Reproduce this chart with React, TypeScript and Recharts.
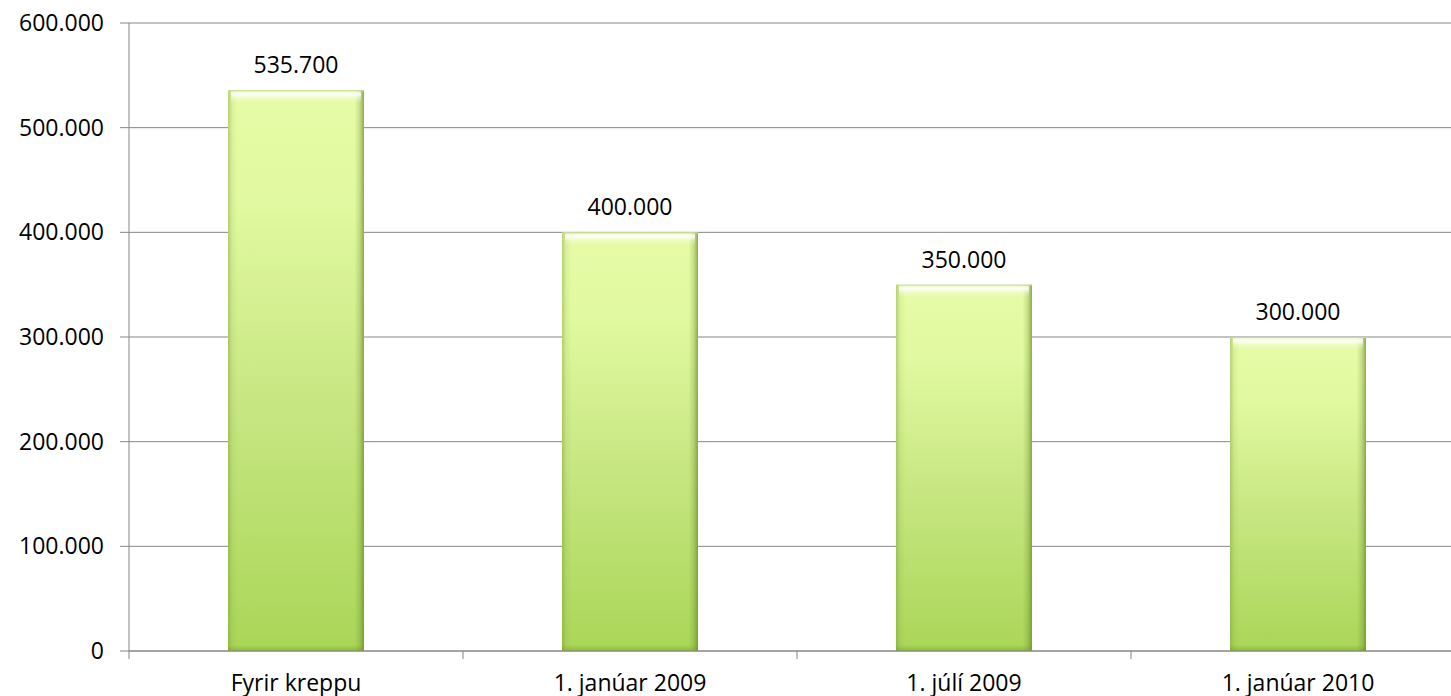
import React from "react";
import { BarChart, Bar, XAxis, YAxis, CartesianGrid, LabelList } from "recharts";

const categories = ["Fyrir kreppu", "1. janúar 2009", "1. júlí 2009", "1. janúar 2010"];
const values = [535700, 400000, 350000, 300000];
const yTicks = [0, 100000, 200000, 300000, 400000, 500000, 600000];

const data = categories.map((name, i) => ({ name, value: values[i] }));

const FONT = "'Open Sans', 'Noto Sans', sans-serif";
const fmt = (v: number) => (v === 0 ? "0" : v.toLocaleString("de-DE"));

const BarShape = (props: any) => {
  const { x, y, width, height } = props;
  if (!height || height <= 0) return null;
  return (
    <g>
      <rect x={x} y={y} width={width} height={height} fill="url(#gV)" />
      <rect x={x} y={y} width={width} height={height} fill="url(#gH)" />
      <rect x={x + 3} y={y + 1} width={width - 6} height={Math.min(12, height)} fill="url(#gTop)" />
      <rect x={x} y={y + height - 6} width={width} height={6} fill="url(#gBot)" />
      <line x1={x} x2={x + width} y1={y + 0.5} y2={y + 0.5} stroke="#c8d89a" strokeWidth={1} />
    </g>
  );
};

const XTick = (props: any) => {
  const { x, y, payload, index } = props;
  const off = payload.offset ?? 0;
  return (
    <g>
      <line x1={x + off} x2={x + off} y1={y - 8} y2={y} stroke="#868686" strokeWidth={1} />
      {index === 0 && (
        <line x1={x - off} x2={x - off} y1={y - 8} y2={y} stroke="#868686" strokeWidth={1} />
      )}
      <text x={x} y={y + 32} textAnchor="middle" fontFamily={FONT} fontSize={23} fill="#000">
        {payload.value}
      </text>
    </g>
  );
};

const ValueLabel = (props: any) => {
  const { x, y, width, value } = props;
  return (
    <text x={x + width / 2} y={y - 17} textAnchor="middle" fontFamily={FONT} fontSize={23} fill="#000">
      {fmt(value)}
    </text>
  );
};

export default function App() {
  return (
    <div style={{ position: "absolute", left: 0, top: 0, width: 1451, height: 696, overflow: "hidden", background: "#fff" }}>
      <BarChart
        width={1480}
        height={696}
        data={data}
        margin={{ top: 23, right: 15, bottom: 0, left: 0 }}
        barSize={136}
      >
        <defs>
          <linearGradient id="gV" x1="0" y1="0" x2="0" y2="1">
            <stop offset="0%" stopColor="#e6fba6" />
            <stop offset="20%" stopColor="#e1f9a0" />
            <stop offset="55%" stopColor="#c8e783" />
            <stop offset="100%" stopColor="#a9d657" />
          </linearGradient>
          <linearGradient id="gH" x1="0" y1="0" x2="1" y2="0">
            <stop offset="0%" stopColor="#6f9228" stopOpacity={0.4} />
            <stop offset="3%" stopColor="#6f9228" stopOpacity={0.1} />
            <stop offset="7%" stopColor="#6f9228" stopOpacity={0} />
            <stop offset="93%" stopColor="#6f9228" stopOpacity={0} />
            <stop offset="97%" stopColor="#5f8220" stopOpacity={0.25} />
            <stop offset="100%" stopColor="#5f8220" stopOpacity={0.65} />
          </linearGradient>
          <linearGradient id="gTop" x1="0" y1="0" x2="0" y2="1">
            <stop offset="0%" stopColor="#ffffff" stopOpacity={0.5} />
            <stop offset="25%" stopColor="#ffffff" stopOpacity={0.9} />
            <stop offset="60%" stopColor="#ffffff" stopOpacity={0.3} />
            <stop offset="100%" stopColor="#ffffff" stopOpacity={0} />
          </linearGradient>
          <linearGradient id="gBot" x1="0" y1="0" x2="0" y2="1">
            <stop offset="0%" stopColor="#6f9228" stopOpacity={0} />
            <stop offset="100%" stopColor="#6f9228" stopOpacity={0.45} />
          </linearGradient>
        </defs>
        <CartesianGrid vertical={false} stroke="#868686" strokeWidth={1} />
        <XAxis
          dataKey="name"
          height={45}
          axisLine={{ stroke: "#868686", strokeWidth: 1 }}
          tickLine={false}
          tick={<XTick />}
          interval={0}
        />
        <YAxis
          width={129}
          domain={[0, 600000]}
          ticks={yTicks}
          tickFormatter={fmt}
          axisLine={{ stroke: "#868686", strokeWidth: 1 }}
          tickLine={{ stroke: "#868686", strokeWidth: 1 }}
          tickSize={9}
          tickMargin={16}
          tick={{ fontFamily: FONT, fontSize: 23, fill: "#000" }}
          interval={0}
        />
        <Bar dataKey="value" shape={<BarShape />} isAnimationActive={false}>
          <LabelList dataKey="value" content={<ValueLabel />} />
        </Bar>
      </BarChart>
    </div>
  );
}
